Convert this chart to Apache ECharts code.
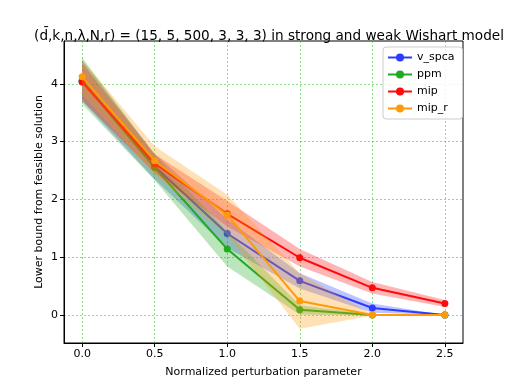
<!DOCTYPE html>
<html><head><meta charset="utf-8">
<script src="https://cdn.jsdelivr.net/npm/echarts@6/dist/echarts.min.js"></script>
<style>html,body{margin:0;padding:0;background:#fff}#c{width:515px;height:386px}</style>
</head><body><div id="c"></div>
<script>
const xValues = [0, 0.5, 1.0, 1.5, 2.0, 2.5];
const xTicks = [0, 0.5, 1.0, 1.5, 2.0, 2.5];
const yTicks = [0, 1, 2, 3, 4];
const seriesNames = ['v_spca', 'ppm', 'mip', 'mip_r'];
const v_spca = [4.05, 2.57, 1.41, 0.59, 0.12, 0];
const ppm = [4.05, 2.55, 1.14, 0.09, 0, 0];
const mip = [4.03, 2.62, 1.75, 0.99, 0.47, 0.20];
const mip_r = [4.12, 2.67, 1.73, 0.24, 0, 0];
const v_spca_std = [0.35, 0.22, 0.25, 0.13, 0.08, 0];
const ppm_std = [0.40, 0.22, 0.30, 0.08, 0.01, 0];
const mip_std = [0.32, 0.16, 0.22, 0.15, 0.10, 0.06];
const mip_r_std = [0.30, 0.25, 0.35, 0.48, 0.01, 0];
const colors = ['#2b3cff', '#1faa1f', '#ff0a0a', '#ff9a0a'];

const means = [v_spca, ppm, mip, mip_r];
const stds = [v_spca_std, ppm_std, mip_std, mip_r_std];

const chart = echarts.init(document.getElementById('c'), null, {renderer: 'canvas'});
const FONT = 'DejaVu Sans';

function hexA(hex, a) {
  const r = parseInt(hex.slice(1,3),16), g = parseInt(hex.slice(3,5),16), b = parseInt(hex.slice(5,7),16);
  return `rgba(${r},${g},${b},${a})`;
}

const series = [];
means.forEach((m, k) => {
  const s = stds[k];
  const rows = xValues.map((x, i) => [x, m[i] - s[i], m[i] + s[i]]);
  series.push({
    type: 'line', name: seriesNames[k], data: xValues.map((x, i) => [x, m[i]]),
    color: colors[k], symbol: 'circle', symbolSize: 7, showSymbol: true,
    lineStyle: {width: 2, color: colors[k]}, itemStyle: {color: colors[k]},
    z: 3 + k * 2, animation: false
  });
  series.push({
    type: 'custom', name: seriesNames[k] + '_band', silent: true,
    data: rows, encode: {x: 0, y: [1, 2]}, z: 2 + k * 2, animation: false,
    renderItem: function (params, api) {
      if (params.dataIndex !== 0) return null;
      const upper = rows.map(r => api.coord([r[0], r[2]]));
      const lower = rows.slice().reverse().map(r => api.coord([r[0], r[1]]));
      return {
        type: 'polygon', shape: {points: upper.concat(lower)},
        style: {fill: hexA(colors[k], 0.3), stroke: null}
      };
    }
  });
});

chart.setOption({
  animation: false,
  backgroundColor: '#fff',
  title: {
    text: '(d\u0304,k,n,\u03bb,N,r) = (15, 5, 500, 3, 3, 3) in strong and weak Wishart model',
    left: 264, top: 24, textAlign: 'center',
    textStyle: {fontFamily: FONT, fontSize: 13.6, fontWeight: 'normal', color: '#000'}
  },
  grid: {left: 64, right: 52, top: 41, bottom: 43, show: true, borderColor: '#000', borderWidth: 1, backgroundColor: 'transparent'},
  legend: {
    data: seriesNames, orient: 'vertical', left: 383, top: 47,
    itemWidth: 24, itemHeight: 10, itemGap: 6,
    padding: [5, 8, 5, 4],
    backgroundColor: 'rgba(255,255,255,0.85)', borderColor: '#cccccc', borderWidth: 1, borderRadius: 3,
    textStyle: {fontFamily: FONT, fontSize: 11, color: '#000'}
  },
  xAxis: {
    type: 'value', min: -0.125, max: 2.625,
    name: 'Normalized perturbation parameter', nameLocation: 'middle', nameGap: 24,
    nameMoveOverlap: false,
    nameTextStyle: {fontFamily: FONT, fontSize: 11, color: '#000'},
    axisLine: {show: true, onZero: false, lineStyle: {color: '#000'}},
    axisTick: {show: true, length: 4, customValues: xTicks, lineStyle: {color: '#000'}},
    axisLabel: {customValues: xTicks, formatter: v => v.toFixed(1), fontFamily: FONT, fontSize: 11, color: '#000', margin: 6},
    splitLine: {show: true, lineStyle: {color: 'rgba(60,200,60,0.6)', type: [2, 2], width: 1}}
  },
  yAxis: {
    type: 'value', min: -0.485, max: 4.74,
    name: 'Lower bound from feasible solution', nameLocation: 'middle', nameGap: 19, nameRotate: 90,
    nameMoveOverlap: false,
    nameTextStyle: {fontFamily: FONT, fontSize: 11, color: '#000'},
    axisLine: {show: true, onZero: false, lineStyle: {color: '#000'}},
    axisTick: {show: true, length: 4, customValues: yTicks, lineStyle: {color: '#000'}},
    axisLabel: {customValues: yTicks, formatter: v => String(v), fontFamily: FONT, fontSize: 11, color: '#000', margin: 6},
    splitLine: {show: true, lineStyle: {color: 'rgba(60,200,60,0.6)', type: [2, 2], width: 1}}
  },
  series: series
});
</script></body></html>
